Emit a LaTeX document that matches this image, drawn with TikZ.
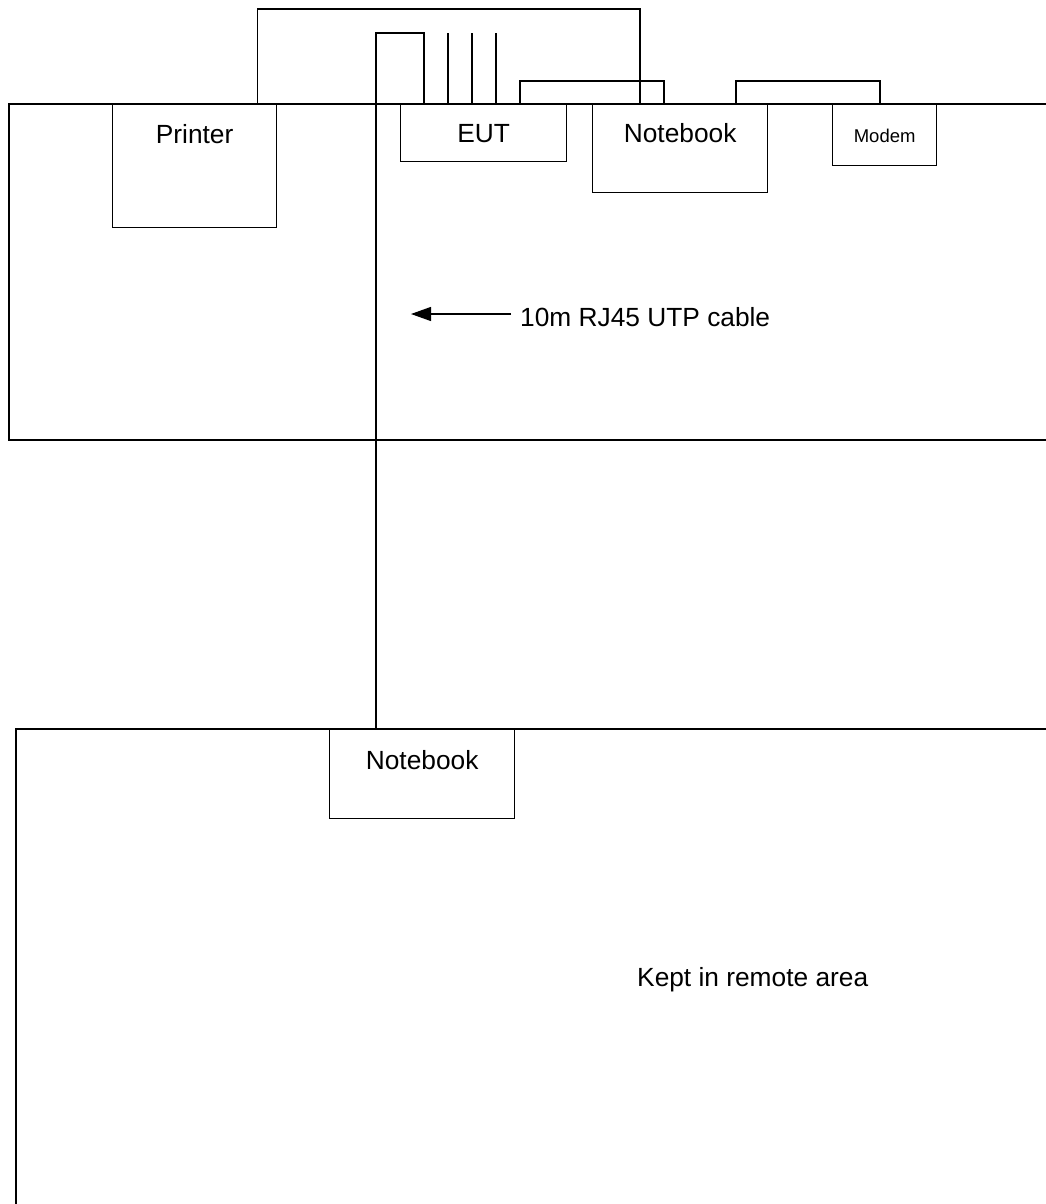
\documentclass[tikz,border=0pt]{standalone}
\usepackage{fontspec}
\setmainfont{Liberation Sans}
\usetikzlibrary{arrows.meta,calc}
\begin{document}
\begin{tikzpicture}[x=1pt,y=-1pt,
  tableline/.style={line width=2pt},
  cable/.style={line width=1.3pt},
  box/.style={draw,line width=1.3pt,inner sep=0pt,anchor=north west,align=center,font=\fontsize{26.3}{28}\selectfont},
  smallbox/.style={box,font=\fontsize{18.5}{20}\selectfont},
  lbl/.style={font=\fontsize{26.3}{28}\selectfont,inner sep=0pt}]
\useasboundingbox (0,0) rectangle (1045,1204);
% boxes
\node[box,text width=164pt,text height=39pt,text depth=84pt] (printer) at (112,104) {Printer};
\node[box,text width=166pt,text height=38pt,text depth=19pt] (eut) at (400,104) {EUT};
\node[box,text width=175pt,text height=38pt,text depth=50pt] (nb) at (592,104) {Notebook};
\node[smallbox,text width=104pt,text height=38pt,text depth=23pt] (modem) at (832,104) {Modem};
\node[box,text width=185pt,text height=40pt,text depth=49pt] (nb2) at (329,729) {Notebook};
% tables
\draw[tableline] (1060,104) -- (9,104) -- (9,440) -- (1060,440);
\draw[line width=2.4pt] (1060,729) -- (16,729) -- (16,1220);
% cables
\draw[cable] ($(printer.north east)+(-20,0)$) -- ++(0,-95) -| ($(nb.north west)+(48,0)$);
\draw[cable] ($(nb2.north west)+(47,0)$) |- ($(eut.north west)+(24,-71)$) -- ($(eut.north west)+(24,0)$);
\foreach \dx in {48,72,96}{
  \draw[cable] ($(eut.north west)+(\dx,0)$) -- ++(0,-71);
}
\draw[cable] ($(eut.north west)+(120,0)$) -- ++(0,-23) -| ($(nb.north west)+(72,0)$);
\draw[cable] ($(nb.north west)+(144,0)$) -- ++(0,-23) -| ($(modem.north west)+(48,0)$);
% label with arrow
\node[lbl,anchor=base west] (utp) at (520,326) {10m RJ45 UTP cable};
\coordinate (utptip) at (411,314);
\draw[cable,-{Triangle[length=20pt,width=14pt]}] (utp.west |- utptip) ++(-9,0) -- (utptip);
\node[lbl,anchor=base west] (remote) at (637,986) {Kept in remote area};
\end{tikzpicture}
\end{document}
